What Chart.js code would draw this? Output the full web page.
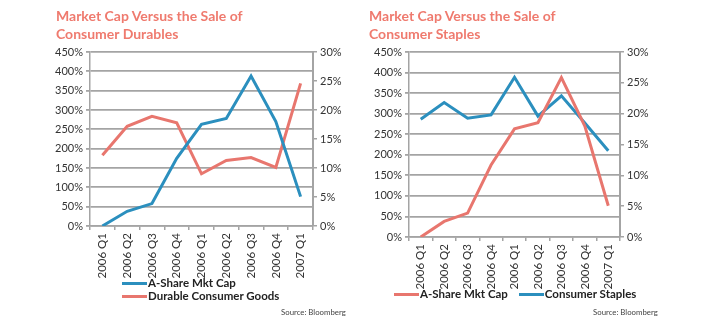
<!DOCTYPE html>
<html>
<head>
<meta charset="utf-8">
<script src="https://cdn.jsdelivr.net/npm/chart.js@4"></script>
<style>
  body { margin: 0; background: #fff; font-family: Lato, sans-serif; }
  #wrap { position: relative; width: 716px; height: 321px; overflow: hidden; }
  .box { position: absolute; top: 0; width: 358px; height: 321px; }
  .title { position: absolute; top: 7px; color: #ef7a6e; font-weight: 700; font-size: 14px; line-height: 17.5px; white-space: nowrap; }
  .src { position: absolute; top: 307px; font-size: 7.8px; color: #444; white-space: nowrap; }
  .leg { position: absolute; font-weight: 700; font-size: 11.5px; color: #222; white-space: nowrap; line-height: 13px; }
  .sw { display: inline-block; width: 25px; height: 3px; vertical-align: middle; margin-right: 1px; position: relative; top: -1px; }
</style>
</head>
<body>
<div id="wrap">
  <canvas id="c1" class="box" style="left:0" width="358" height="321"></canvas>
  <canvas id="c2" class="box" style="left:358px" width="358" height="321"></canvas>
  <div class="title" style="left:56px">Market Cap Versus the Sale of<br>Consumer Durables</div>
  <div class="title" style="left:369px">Market Cap Versus the Sale of<br>Consumer Staples</div>
  <div class="leg" style="left:122px;top:276px"><span class="sw" style="background:#2b8fbe"></span>A-Share Mkt Cap</div>
  <div class="leg" style="left:122px;top:289px"><span class="sw" style="background:#e8766e"></span>Durable Consumer Goods</div>
  <div class="leg" style="left:394px;top:287px"><span class="sw" style="background:#e8766e"></span>A-Share Mkt Cap<span class="sw" style="background:#2b8fbe;margin-left:11px"></span>Consumer Staples</div>
  <div class="src" style="left:281px">Source: Bloomberg</div>
  <div class="src" style="left:593px">Source: Bloomberg</div>
</div>
<script>
const categories = ['2006 Q1', '2006 Q2', '2006 Q3', '2006 Q4', '2006 Q1', '2006 Q2', '2006 Q3', '2006 Q4', '2007 Q1'];
const marketCap = [0, 38, 58, 175, 263, 278, 388, 270, 76];
const durables = [12.2, 17.2, 18.9, 17.8, 9.0, 11.3, 11.8, 10.1, 24.6];
const staples = [19.1, 21.8, 19.25, 19.8, 25.9, 19.6, 22.9, 18.5, 14.0];

const BLUE = '#2b8fbe';
const RED = '#e8766e';
const GRID = '#a4a4a4';
const TXT = '#333';

function makeChart(id, sets, dims) {
  return new Chart(document.getElementById(id), {
    type: 'line',
    data: {
      labels: categories,
      datasets: sets.map(s => ({
        label: s.label,
        data: s.data,
        yAxisID: s.axis,
        borderColor: s.color,
        borderWidth: 3,
        pointRadius: 0,
        tension: 0,
        fill: false
      }))
    },
    options: {
      responsive: false,
      animation: false,
      layout: { padding: { top: 52, left: 0, right: 0, bottom: 0 } },
      plugins: { legend: { display: false }, tooltip: { enabled: false } },
      scales: {
        x: {
          offset: true,
          grid: { offset: true, drawOnChartArea: false, color: GRID, tickLength: 4, lineWidth: 1.5 },
          border: { color: GRID, width: 1.5 },
          ticks: { minRotation: 90, maxRotation: 90, autoSkip: false, color: TXT, padding: 3, font: { family: 'Lato', size: 11.5 } },
          afterFit: s => { s.height = dims.xh; }
        },
        yl: {
          position: 'left',
          min: 0, max: 450,
          ticks: { stepSize: 50, callback: v => v + '%', color: TXT, padding: 3, font: { family: 'Lato', size: 11 } },
          grid: { color: GRID, lineWidth: 1.8, tickLength: 4 },
          border: { color: GRID, width: 1.5 },
          afterFit: s => { s.width = dims.yl; }
        },
        yr: {
          position: 'right',
          min: 0, max: 30,
          ticks: { stepSize: 5, callback: v => v + '%', color: TXT, padding: 3, font: { family: 'Lato', size: 11 } },
          grid: { drawOnChartArea: false, color: GRID, lineWidth: 1.5, tickLength: 4 },
          border: { color: GRID, width: 2 },
          afterFit: s => { s.width = dims.yr; }
        }
      }
    }
  });
}

makeChart('c1', [
  { label: 'A-Share Mkt Cap', data: marketCap, axis: 'yl', color: BLUE },
  { label: 'Durable Consumer Goods', data: durables, axis: 'yr', color: RED }
], { xh: 95, yl: 90, yr: 45 });

makeChart('c2', [
  { label: 'A-Share Mkt Cap', data: marketCap, axis: 'yl', color: RED },
  { label: 'Consumer Staples', data: staples, axis: 'yr', color: BLUE }
], { xh: 84, yl: 51, yr: 96 });
</script>
</body>
</html>
